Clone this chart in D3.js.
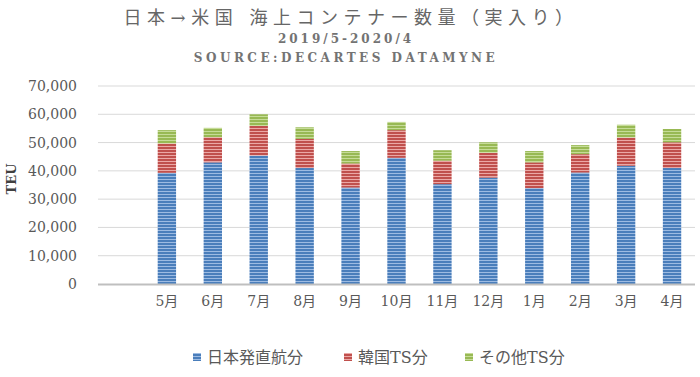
<!DOCTYPE html>
<html>
<head>
<meta charset="utf-8">
<script src="https://cdn.jsdelivr.net/npm/d3@7"></script>
<style>
  body { margin: 0; background: #fff; }
  svg text { font-family: "DejaVu Serif", "Liberation Serif", "Noto Sans CJK JP", serif; }
</style>
</head>
<body>
<div id="chart"></div>
<script>
// data (TEU)
var months = ["", "5月", "6月", "7月", "8月", "9月", "10月", "11月", "12月", "1月", "2月", "3月", "4月"];
var direct = [null, 39300, 43000, 45400, 41000, 34100, 44600, 35300, 37600, 33900, 39400, 41800, 41000];
var korea  = [null, 10400, 8900, 10500, 10300, 8500, 9800, 8300, 8800, 9100, 6500, 10000, 9100];
var other  = [null, 4700, 3300, 4100, 4100, 4400, 2900, 3700, 3700, 4000, 3200, 4500, 4700];
var seriesNames = ["日本発直航分", "韓国TS分", "その他TS分"];
var yTicks = [0, 10000, 20000, 30000, 40000, 50000, 60000, 70000];

var width = 700, height = 377;
var plot = { left: 98, right: 695, top: 86, bottom: 284 };
var colors = [
  { base: "#4a7ebb", light: "#9dbbe2" },
  { base: "#c0504d", light: "#eba8a6" },
  { base: "#98b954", light: "#c6dc98" }
];

var svg = d3.select("#chart").append("svg")
  .attr("width", width)
  .attr("height", height);

// striped fills
var defs = svg.append("defs");
colors.forEach(function(c, i) {
  var p = defs.append("pattern")
    .attr("id", "stripe" + i)
    .attr("patternUnits", "userSpaceOnUse")
    .attr("width", 4).attr("height", 3);
  p.append("rect").attr("width", 4).attr("height", 3).attr("fill", c.base);
  p.append("rect").attr("y", 2).attr("width", 4).attr("height", 1).attr("fill", c.light);
});

var x = d3.scaleBand()
  .domain(months.map(function(m, i) { return i; }))
  .range([plot.left, plot.right])
  .paddingInner(0.6)
  .paddingOuter(0.3);

var y = d3.scaleLinear()
  .domain([0, 70000])
  .range([plot.bottom, plot.top]);

//////////////////////////// grid + y axis ////////////////////////////
svg.append("g")
  .selectAll("line")
  .data(yTicks.filter(function(t) { return t > 0; }))
  .enter().append("line")
    .attr("x1", plot.left).attr("x2", plot.right)
    .attr("y1", function(d) { return y(d); })
    .attr("y2", function(d) { return y(d); })
    .attr("stroke", "#d9d9d9")
    .attr("stroke-width", 1);

var yAxis = d3.axisLeft(y).tickValues(yTicks).tickFormat(d3.format(",")).tickSize(0).tickPadding(0);
var yg = svg.append("g")
  .attr("transform", "translate(" + 77 + ",0)")
  .call(yAxis);
yg.select(".domain").remove();
yg.selectAll("text")
  .attr("fill", "#595959")
  .attr("font-family", "DejaVu Serif")
  .attr("font-size", "14px");

svg.append("text")
  .attr("transform", "translate(11,179) rotate(-90)")
  .attr("text-anchor", "middle")
  .attr("dy", "0.35em")
  .attr("font-weight", "bold")
  .attr("font-size", "13px")
  .attr("fill", "#404040")
  .text("TEU");

//////////////////////////// bars ////////////////////////////
var rows = months.map(function(m, i) {
  return { month: m, i: i, direct: direct[i] || 0, korea: korea[i] || 0, other: other[i] || 0 };
});
var stack = d3.stack().keys(["direct", "korea", "other"]);
var layers = stack(rows);

svg.append("g")
  .selectAll("g")
  .data(layers)
  .enter().append("g")
    .attr("fill", function(d, i) { return "url(#stripe" + i + ")"; })
  .selectAll("rect")
  .data(function(d) { return d.filter(function(v) { return v.data.month !== ""; }); })
  .enter().append("rect")
    .attr("x", function(d) { return x(d.data.i); })
    .attr("width", x.bandwidth())
    .attr("y", function(d) { return y(d[1]); })
    .attr("height", function(d) { return y(d[0]) - y(d[1]); });

// x axis line
svg.append("line")
  .attr("x1", plot.left).attr("x2", plot.right)
  .attr("y1", plot.bottom + 0.5).attr("y2", plot.bottom + 0.5)
  .attr("stroke", "#bfbfbf")
  .attr("stroke-width", 2);

var xAxis = d3.axisBottom(x).tickFormat(function(i) { return months[i]; }).tickSize(0).tickPadding(0);
var xg = svg.append("g")
  .attr("transform", "translate(0," + 296 + ")")
  .call(xAxis);
xg.select(".domain").remove();
xg.selectAll("text")
  .attr("fill", "#595959")
  .attr("font-size", "14px");

//////////////////////////// titles ////////////////////////////
svg.append("text")
  .attr("x", 351).attr("y", 24)
  .attr("text-anchor", "middle")
  .attr("font-family", "Noto Sans CJK JP")
  .attr("font-size", "18px")
  .attr("letter-spacing", "5.5px")
  .attr("fill", "#666666")
  .text("日本→米国 海上コンテナー数量（実入り）");

svg.append("text")
  .attr("x", 346).attr("y", 43)
  .attr("text-anchor", "middle")
  .attr("font-size", "12px")
  .attr("font-weight", "bold")
  .attr("letter-spacing", "3px")
  .attr("fill", "#737373")
  .text("2019/5-2020/4");

svg.append("text")
  .attr("x", 346).attr("y", 62)
  .attr("text-anchor", "middle")
  .attr("font-size", "12px")
  .attr("font-weight", "bold")
  .attr("letter-spacing", "3.5px")
  .attr("fill", "#737373")
  .text("SOURCE:DECARTES DATAMYNE");

//////////////////////////// legend ////////////////////////////
var legendX = [193, 344, 465];
var legend = svg.append("g")
  .selectAll("g")
  .data(seriesNames)
  .enter().append("g")
    .attr("transform", function(d, i) { return "translate(" + legendX[i] + ",357)"; });
legend.append("rect")
  .attr("x", 0).attr("y", -4)
  .attr("width", 8).attr("height", 8)
  .attr("fill", function(d, i) { return "url(#stripe" + i + ")"; });
legend.append("text")
  .attr("x", 14).attr("y", 0)
  .attr("dy", "0.35em")
  .attr("font-size", "16px")
  .attr("fill", "#595959")
  .text(function(d) { return d; });
</script>
</body>
</html>
